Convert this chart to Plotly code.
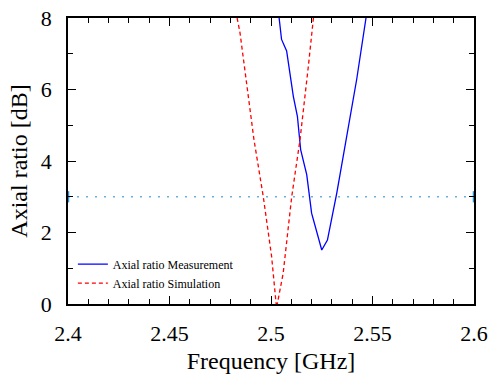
import plotly.graph_objects as go

meas_freq = [2.5040, 2.5052, 2.5077, 2.5110, 2.5130, 2.5140, 2.5146, 2.5176, 2.5200,
             2.5250, 2.5278, 2.5324, 2.5370, 2.5422, 2.5468]
meas_ar = [8.0, 7.40, 7.08, 5.81, 5.25, 4.60, 4.32, 3.62, 2.54,
           1.51, 1.79, 3.10, 4.60, 6.28, 8.0]

sim_freq = [2.4833, 2.4847, 2.4916, 2.4962, 2.5003, 2.5025, 2.5031, 2.5060,
            2.5102, 2.5143, 2.5184, 2.5209]
sim_ar = [8.0, 7.60, 4.60, 3.00, 1.33, 0.02, 0.0, 0.86,
          3.00, 4.60, 6.65, 8.0]

ref_freq = [2.4, 2.6]
ref_ar = [3, 3]

font = "Times New Roman, Liberation Serif, DejaVu Serif, serif"

fig = go.Figure()
fig.add_trace(go.Scatter(x=ref_freq, y=ref_ar, mode="lines+markers",
                         line=dict(color="#6ab0de", width=1.5, dash="2px,7px"),
                         marker=dict(symbol="line-ns", size=8,
                                     line=dict(color="#2a94dc", width=2.5)),
                         cliponaxis=False, showlegend=False, hoverinfo="skip"))
fig.add_trace(go.Scatter(x=meas_freq, y=meas_ar, mode="lines",
                         name="Axial ratio Measurement",
                         line=dict(color="#0000ff", width=1.3)))
fig.add_trace(go.Scatter(x=sim_freq, y=sim_ar, mode="lines",
                         name="Axial ratio Simulation",
                         line=dict(color="#ff0000", width=1.3, dash="4px,3px")))

fig.update_layout(
    width=490, height=378,
    margin=dict(l=68, r=16, t=18, b=74, autoexpand=False),
    paper_bgcolor="white", plot_bgcolor="white",
    font=dict(family=font, color="black"),
    legend=dict(x=0.012, y=0.19, xanchor="left", yanchor="top",
                bgcolor="rgba(0,0,0,0)", font=dict(size=12, family=font),
                itemwidth=30, tracegroupgap=0),
    xaxis=dict(range=[2.4, 2.6],
               tickvals=[2.4, 2.45, 2.5, 2.55, 2.6],
               ticktext=["2.4", "2.45", "2.5", "2.55", "2.6"],
               ticks="inside", ticklen=8, tickcolor="black",
               minor=dict(dtick=0.01, tick0=2.4, ticks="inside", ticklen=5, tickcolor="black"),
               showline=True, linecolor="black", linewidth=1.5, mirror="ticks",
               showgrid=False, zeroline=False, automargin=False,
               tickfont=dict(size=22, family=font), ticklabelstandoff=9,
               title=dict(text="Frequency [GHz]", font=dict(size=24, family=font), standoff=7)),
    yaxis=dict(range=[0, 8], dtick=2,
               ticks="inside", ticklen=8, tickcolor="black",
               minor=dict(dtick=1, ticks="inside", ticklen=5, tickcolor="black"),
               showline=True, linecolor="black", linewidth=1.5, mirror="ticks",
               showgrid=False, zeroline=False, automargin=False,
               tickfont=dict(size=22, family=font), ticklabelstandoff=10,
               title=dict(text="Axial ratio [dB]", font=dict(size=24, family=font), standoff=6)),
)

fig.write_html("out.html")
